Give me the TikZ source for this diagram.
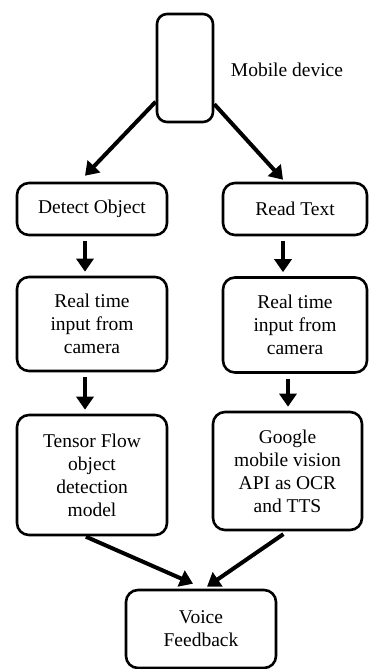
\documentclass[tikz,border=0pt]{standalone}
\usepackage{fontspec}
\setmainfont{Liberation Serif}
\usetikzlibrary{arrows.meta}
\begin{document}
\begin{tikzpicture}[x=1pt,y=-1pt,
    txt/.style={font=\fontsize{19.5}{23}\selectfont,align=center},
    box/.style={txt,draw,line width=2.6pt,rounded corners=12pt,inner sep=0pt},
    flow/.style={line width=4pt,-{Triangle[length=13pt,width=17pt]}}]
  \useasboundingbox (0,0) rectangle (369,669);
  \node[box,rounded corners=10pt,minimum width=56pt,minimum height=108pt] (mobile) at (185,68) {};
  \node[txt] (mobilelabel) at (287,70) {Mobile device};
  \node[box,minimum width=150pt,minimum height=52pt] (detect) at (92,209) {Detect Object};
  \node[box,minimum width=144pt,minimum height=52pt] (read) at (295,209) {Read Text};
  \node[box,minimum width=150pt,minimum height=94pt] (rtleft) at (92,324) {Real time\\input from\\camera};
  \node[box,minimum width=144pt,minimum height=95pt] (rtright) at (295,325) {Real time\\input from\\camera};
  \node[box,minimum width=150pt,minimum height=120pt] (tensor) at (92,475) {Tensor Flow\\object\\detection\\model};
  \node[box,minimum width=149pt,minimum height=118pt] (google) at (287.5,471) {Google\\mobile vision\\API as OCR\\and TTS};
  \node[box,minimum width=150pt,minimum height=78pt] (voice) at (201,629) {Voice\\Feedback};
  \draw[flow] (mobile.229) -- ([xshift=-7pt,yshift=6pt]detect.north);
  \draw[flow] (mobile.309) -- ([xshift=-12pt,yshift=2pt]read.north);
  \foreach \from/\to/\dx/\dy in {detect/rtleft/-7/-7,read/rtright/-12/-12,rtleft/tensor/-7/-7,rtright/google/-7/0.5} {
    \draw[flow,shorten <=5pt,shorten >=4pt] ([xshift=\dx pt]\from.south) -- ([xshift=\dy pt]\to.north);
  }
  \draw[flow,shorten <=1pt] ([xshift=-7pt]tensor.south) -- ([xshift=-8pt,yshift=5pt]voice.north);
  \draw[flow,shorten <=5pt] (google.south) -- ([xshift=6pt,yshift=2pt]voice.north);
\end{tikzpicture}
\end{document}
